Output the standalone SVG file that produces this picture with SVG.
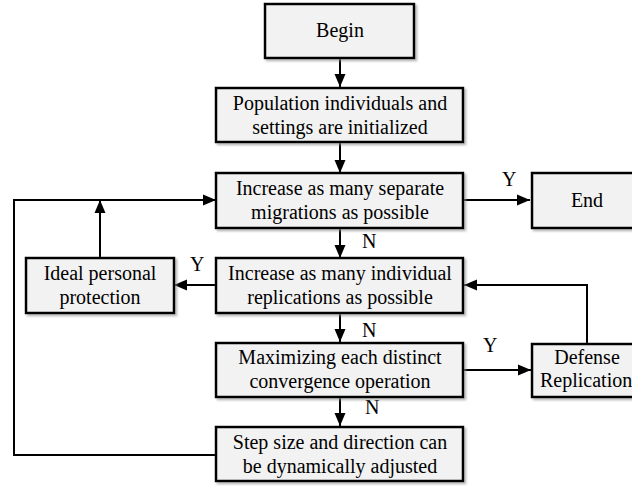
<svg xmlns="http://www.w3.org/2000/svg" width="632" height="486" viewBox="0 0 632 486">
<style>
.box{fill:#f2f2f2;stroke:#000;stroke-width:2.5;filter:url(#sh)}
text{font-family:'Liberation Serif','Times New Roman','DejaVu Serif',serif;font-size:20px;fill:#000}
.t{text-anchor:middle}
.c{fill:none;stroke:#000;stroke-width:2;marker-end:url(#ah)}
</style>
<defs>
<marker id="ah" markerUnits="userSpaceOnUse" markerWidth="14" markerHeight="14" viewBox="0 0 14 14" refX="13" refY="7" orient="auto">
<path d="M0,1.5 L13,7 L0,12.5 Z" fill="#000"/>
</marker>
<filter id="sh" x="-10%" y="-10%" width="130%" height="130%">
<feDropShadow dx="2" dy="2" stdDeviation="1.2" flood-color="#888" flood-opacity="0.6"/>
</filter>
</defs>
<rect width="632" height="486" fill="#fff"/>
<g id="connectors">
<line class="c" x1="340" y1="58" x2="340" y2="87"/>
<line class="c" x1="340" y1="142" x2="340" y2="173"/>
<line class="c" x1="463" y1="200" x2="530" y2="200"/>
<line class="c" x1="340" y1="228" x2="340" y2="258"/>
<line class="c" x1="216" y1="285" x2="174" y2="285"/>
<line class="c" x1="100" y1="258" x2="100" y2="200"/>
<line class="c" x1="340" y1="313" x2="340" y2="342"/>
<line class="c" x1="463" y1="370" x2="531" y2="370"/>
<polyline class="c" points="587,344 587,285 464,285"/>
<line class="c" x1="340" y1="397" x2="340" y2="426"/>
<polyline class="c" points="216,455 14,455 14,200 216,200"/>
<text x="502" y="186">Y</text>
<text x="362" y="248">N</text>
<text x="190" y="271">Y</text>
<text x="362" y="337">N</text>
<text x="483" y="352">Y</text>
<text x="365" y="414">N</text>
</g>
<g id="begin">
<rect class="box" x="265" y="4" width="149" height="54"/>
<text class="t" x="340" y="37">Begin</text>
</g>
<g id="init">
<rect class="box" x="216" y="88" width="247" height="54"/>
<text class="t" x="340" y="110">Population individuals and</text>
<text class="t" x="340" y="134">settings are initialized</text>
</g>
<g id="migrations">
<rect class="box" x="216" y="173" width="247" height="55"/>
<text class="t" x="340" y="195">Increase as many separate</text>
<text class="t" x="340" y="219">migrations as possible</text>
</g>
<g id="end">
<rect class="box" x="532" y="173" width="110" height="55"/>
<text class="t" x="587" y="207">End</text>
</g>
<g id="ideal">
<rect class="box" x="26" y="258" width="148" height="55"/>
<text class="t" x="100" y="280">Ideal personal</text>
<text class="t" x="100" y="304">protection</text>
</g>
<g id="replications">
<rect class="box" x="216" y="258" width="247" height="55"/>
<text class="t" x="340" y="280">Increase as many individual</text>
<text class="t" x="340" y="304">replications as possible</text>
</g>
<g id="maximizing">
<rect class="box" x="216" y="343" width="247" height="54"/>
<text class="t" x="340" y="364">Maximizing each distinct</text>
<text class="t" x="340" y="388">convergence operation</text>
</g>
<g id="defense">
<rect class="box" x="532" y="344" width="110" height="53"/>
<text class="t" x="587" y="364">Defense</text>
<text x="540" y="387">Replication</text>
</g>
<g id="step">
<rect class="box" x="216" y="427" width="247" height="54"/>
<text class="t" x="340" y="449">Step size and direction can</text>
<text class="t" x="340" y="473">be dynamically adjusted</text>
</g>
</svg>
